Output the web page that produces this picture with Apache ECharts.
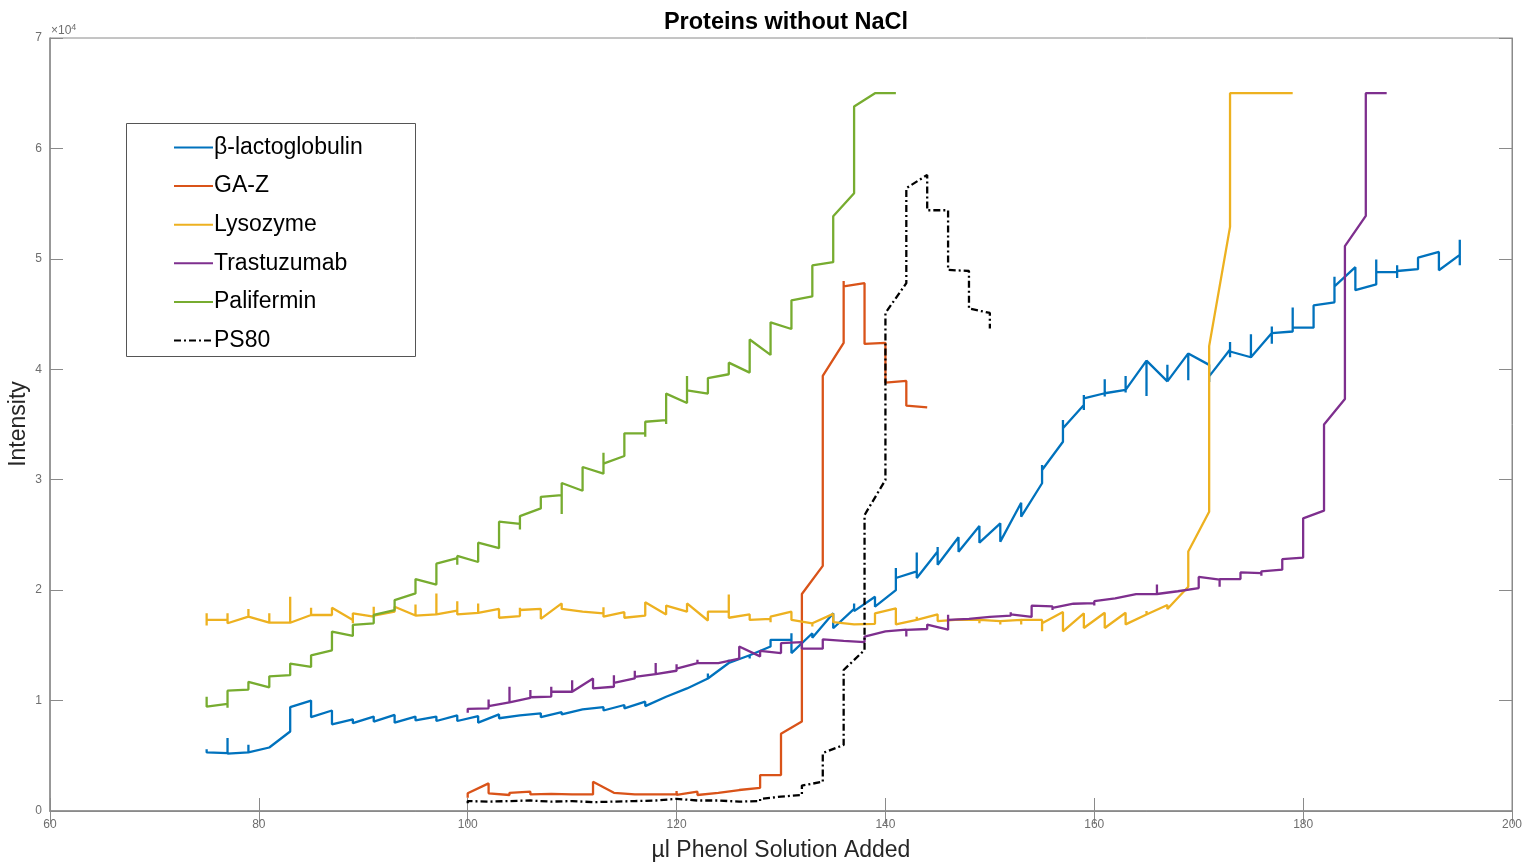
<!DOCTYPE html>
<html>
<head>
<meta charset="utf-8">
<script src="https://cdn.jsdelivr.net/npm/echarts@6/dist/echarts.min.js"></script>
<style>html,body{margin:0;padding:0;background:#fff;}#c{width:1536px;height:867px;}</style>
</head>
<body>
<div id="c"></div>
<script>
var xTicks = [60, 80, 100, 120, 140, 160, 180, 200];
var yTicks = [0, 1, 2, 3, 4, 5, 6, 7];
var seriesNames = ['β-lactoglobulin', 'GA-Z', 'Lysozyme', 'Trastuzumab', 'Palifermin', 'PS80'];

var lactoglobulin = [
[75,5600],[75,5300],
[77,5250],[77,6600],[77,5200],
[79,5300],[79,6000],[79,5300],
[81,5750],
[83,7200],[83,9400],
[85,10000],[85,8500],
[87,9100],[87,7850],
[89,8300],[89,7950],
[91,8550],[91,8100],
[93,8700],[93,8000],
[95,8550],[95,8200],
[97,8550],[97,8150],
[99,8650],[99,8150],
[101,8600],[101,8000],
[103,8750],[103,8400],
[105,8650],[105,8500],
[107,8850],[107,8500],
[109,8950],[109,8750],
[111,9200],[111,9050],
[113,9400],[113,9100],
[115,9600],[115,9300],
[117,9900],[117,9500],
[119,10350],
[121,11100],
[123,12000],[123,12450],[123,12000],
[125,13400],[125,13700],[125,13400],
[127,14100],[127,13800],[127,14100],
[129,14900],[129,15500],
[131,15500],[131,16100],[131,14300],
[133,16100],[133,15700],
[135,17900],[135,16550],
[137,18300],[137,18800],[137,18100],
[139,19400],[139,18500],
[141,20000],[141,22000],[141,21100],
[143,21700],[143,23400],[143,21100],
[145,23500],[145,23900],[145,22300],
[147,24790],[147,23480],
[149,25810],[149,24300],
[151,26050],[151,24390],
[153,27920],[153,26650],
[155,29680],[155,31330],[155,30880],
[157,33440],[157,35410],[157,34660],
[159,36770],[159,37670],[159,36320],[159,37370],
[161,37830],[161,39100],[161,37530],[161,37830],
[163,38130],[163,39400],[163,37900],[163,38130],
[165,40780],[165,37580],[165,40780],
[167,38910],[167,40400],[167,38910],
[169,41440],[169,39010],[169,41440],
[171,40400],[171,38840],[171,39360],
[173,41790],[173,42480],[173,41090],[173,41610],
[175,41090],[175,43180],[175,41090],
[177,43280],[177,43870],[177,42310],[177,43280],
[179,43420],[179,45600],[179,43770],
[181,43770],[181,45780],
[183,46060],[183,48380],[183,47510],
[185,49250],[185,47160],
[187,47680],[187,49940],[187,48800],
[189,48800],[189,49420],[189,48270],[189,48900],
[191,49070],[191,50110],
[193,50630],[193,48970],
[195,50360],[195,51740],[195,49420]
];

var gaZ = [
[100,1200],[100,1600],
[102,2500],[102,1600],
[104,1450],[104,1300],[104,1650],
[106,1750],[106,1500],
[108,1550],[108,1400],[108,1600],
[110,1500],
[112,1500],[112,2650],
[114,1650],
[116,1500],
[118,1500],[118,1650],[118,1450],
[120,1500],[120,1800],[120,1450],
[122,1750],[122,1450],
[124,1650],
[126,1900],
[128,2100],[128,3250],
[130,3250],[130,7000],
[132,8100],[132,19650],
[134,22200],[134,39400],
[136,42400],[136,48000],[136,47500],
[138,47800],[138,42300],
[140,42400],[140,38800],
[142,38950],[142,36700],
[144,36550]
];

var lysozyme = [
[75,16800],[75,17900],[75,17300],
[77,17300],[77,17900],[77,17000],
[79,17600],[79,18300],[79,17600],
[81,17050],[81,17900],[81,17050],
[83,17050],[83,19400],[83,17050],
[85,17750],[85,18400],[85,17750],
[87,17750],[87,18400],
[89,17300],[89,17000],[89,17900],
[91,17600],[91,18500],[91,17700],
[93,18050],[93,18500],
[95,17700],[95,18700],[95,17700],
[97,17800],[97,19700],[97,17800],
[99,18150],[99,19000],[99,17800],
[101,17950],[101,18800],[101,17950],
[103,18300],[103,17500],
[105,17650],[105,18400],[105,18200],
[107,18300],[107,17400],
[109,18800],[109,18300],
[111,18050],
[113,17900],[113,18450],[113,17600],
[115,18000],[115,17500],
[117,17700],[117,18900],
[119,17800],[119,18600],
[121,18050],[121,18800],
[123,17250],[123,18050],
[125,18050],[125,19600],[125,17500],
[127,17800],[127,17300],
[129,17400],[129,17100],[129,17600],
[131,18050],[131,17300],
[133,17000],[133,16700],[133,17000],
[135,17850],[135,17100],
[137,16900],
[139,16950],[139,17900],
[141,18350],[141,16900],
[143,17300],[143,17600],[143,17300],
[145,17800],[145,17200],
[147,17330],
[149,17300],[149,17000],[149,17300],
[151,17200],[151,16900],[151,17200],
[153,17300],[153,16900],[153,17300],
[155,17300],[155,16270],[155,17000],
[157,18020],[157,16270],
[159,17900],[159,16570],
[161,17950],[161,16570],
[163,17950],[163,16900],
[165,17800],[165,18100],[165,17800],
[167,18650],[167,18300],
[169,20300],[169,23500],
[171,27100],[171,42100],
[173,52900],[173,65000],
[179,65000]
];

var trastuzumab = [
[100,8900],[100,9250],
[102,9300],[102,10100],[102,9500],
[104,9830],[104,11250],[104,9830],
[106,10240],[106,10950],[106,10300],
[108,10360],[108,11250],[108,10800],
[110,10800],[110,11850],[110,10800],
[112,12000],[112,11100],
[114,11250],[114,12300],[114,11600],
[116,12000],[116,12700],[116,12150],
[118,12400],[118,13400],[118,12400],
[120,12700],[120,13300],[120,12900],
[122,13400],[122,13700],[122,13400],
[124,13400],
[126,13800],[126,14900],
[128,14000],[128,14500],
[130,14300],[130,15200],
[132,15300],[132,14700],
[134,14700],[134,15550],
[136,15400],
[138,15300],[138,15800],
[140,16270],
[142,16420],[142,15800],[142,16400],
[144,16480],[144,16880],
[146,16420],[146,17780],[146,17300],
[148,17390],
[150,17570],
[152,17690],[152,18000],[152,17800],
[154,17570],[154,18590],
[156,18530],[156,18200],[156,18400],
[158,18770],
[160,18830],[160,18600],[160,19000],
[162,19250],
[164,19640],
[166,19650],[166,20500],[166,19650],
[168,19900],
[170,20190],[170,21200],
[172,20950],[172,20300],[172,21000],
[174,21000],[174,21600],
[176,21550],[176,21300],[176,21700],
[178,21850],[178,22800],
[180,22950],[180,26500],
[182,27200],[182,35000],
[184,37300],[184,51150],
[186,53900],[186,65000],
[188,65000]
];

var palifermin = [
[75,10350],[75,9450],
[77,9700],[77,9350],[77,10900],
[79,11000],[79,11700],
[81,11200],[81,12200],
[83,12300],[83,13350],
[85,13050],[85,14100],
[87,14550],[87,16250],
[89,15850],[89,16850],
[91,17000],[91,17750],
[93,18200],[93,19100],
[95,19700],[95,21000],
[97,20500],[97,22400],
[99,22900],[99,22300],[99,23100],
[101,22550],[101,24300],
[103,23800],[103,26200],
[105,26000],[105,25500],[105,26700],
[107,27400],[107,28450],
[109,28600],[109,26900],[109,29700],
[111,29000],[111,31150],
[113,30550],[113,32450],[113,31450],
[115,32150],[115,34200],
[117,34200],[117,33900],[117,35250],
[119,35400],[119,35050],[119,37800],
[121,36950],[121,39400],[121,38100],
[123,37800],[123,39200],
[125,39550],[125,40600],
[127,39700],[127,42700],
[129,41300],[129,44250],
[131,43650],[131,46250],
[133,46600],[133,49400],
[135,49700],[135,53850],
[137,55950],[137,63800],
[139,65000],
[141,65000]
];

var ps80 = [
[100,700],[100,900],
[102,850],[104,900],[106,950],[108,850],[110,900],[112,800],[114,850],
[116,900],[118,950],[120,1100],[122,950],[124,950],[126,850],
[128,900],[128,1100],
[130,1300],
[132,1450],[132,2300],
[134,2650],[134,5250],
[136,5980],[136,12770],
[138,14580],[138,26800],
[140,29980],[140,45100],
[142,47800],[142,56400],
[144,57600],[144,54400],
[146,54400],[146,49000],
[148,48900],[148,45500],
[150,45100],[150,43700]
];

var colors = ['#0072BD', '#D95319', '#EDB120', '#7E2F8E', '#77AC30', '#000000'];
var allData = [lactoglobulin, gaZ, lysozyme, trastuzumab, palifermin, ps80];
var FONT = "'Liberation Sans', Arial, sans-serif";
var axisGray = '#8a8a8a';
var labelGray = '#6e6e6e';

var series = allData.map(function (d, i) {
  return {
    name: seriesNames[i],
    type: 'line',
    data: d,
    symbol: 'none',
    showSymbol: false,
    animation: false,
    lineStyle: {
      color: colors[i],
      width: 2.3,
      type: i === 5 ? [7, 3, 2, 3] : 'solid'
    },
    itemStyle: { color: colors[i] },
    z: 2 + i
  };
});

var chart = echarts.init(document.getElementById('c'));
var gridL = 50, gridT = 38, gridW = 1462, gridH = 773;

chart.setOption({
  backgroundColor: '#ffffff',
  animation: false,
  title: {
    text: 'Proteins without NaCl',
    left: gridL + gridW / 2,
    textAlign: 'center',
    top: 6,
    textStyle: { fontFamily: FONT, fontSize: 23.5, fontWeight: 'bold', color: '#000' }
  },
  grid: { left: gridL, top: gridT, width: gridW, height: gridH, show: true, borderColor: axisGray, borderWidth: 1, backgroundColor: 'transparent' },
  legend: {
    orient: 'vertical',
    left: 173,
    top: 136,
    padding: 0,
    itemWidth: 39,
    itemHeight: 20,
    itemGap: 15.6,
    data: seriesNames,
    itemStyle: { opacity: 0 },
    textStyle: { fontFamily: FONT, fontSize: 23, color: '#000', padding: [0, 0, 0, -4] },
    selectedMode: false
  },
  xAxis: [{
    type: 'value', min: xTicks[0], max: xTicks[xTicks.length - 1], interval: 20,
    axisLine: { show: true, lineStyle: { color: axisGray, width: 1.5 } },
    axisTick: { show: true, inside: true, length: 13, lineStyle: { color: axisGray } },
    axisLabel: { show: true, margin: 8, fontFamily: FONT, fontSize: 12, color: labelGray,
      formatter: function (v) { return xTicks.indexOf(v) >= 0 ? String(v) : ''; } },
    splitLine: { show: false }
  }, {
    type: 'value', position: 'top', min: xTicks[0], max: xTicks[xTicks.length - 1], interval: 20,
    axisLine: { show: true, lineStyle: { color: axisGray } },
    axisTick: { show: true, inside: true, length: 13, lineStyle: { color: axisGray } },
    axisLabel: { show: false }, splitLine: { show: false }
  }],
  yAxis: [{
    type: 'value', min: 0, max: 70000, interval: 10000,
    axisLine: { show: true, lineStyle: { color: axisGray, width: 1.5 } },
    axisTick: { show: true, inside: true, length: 13, lineStyle: { color: axisGray } },
    axisLabel: { show: true, margin: 8, fontFamily: FONT, fontSize: 12, color: labelGray,
      formatter: function (v) { return String(yTicks[Math.round(v / 10000)]); } },
    splitLine: { show: false }
  }, {
    type: 'value', position: 'right', min: 0, max: 70000, interval: 10000,
    axisLine: { show: true, lineStyle: { color: axisGray } },
    axisTick: { show: true, inside: true, length: 13, lineStyle: { color: axisGray } },
    axisLabel: { show: false }, splitLine: { show: false }
  }],
  graphic: [
    { type: 'rect', shape: { x: 126.5, y: 123.5, width: 289, height: 233 }, style: { fill: '#fff', stroke: '#555', lineWidth: 1 }, z: 0, silent: true },
    { type: 'text', x: 781, y: 851, style: { text: 'µl Phenol Solution Added', font: '23px ' + FONT, fill: '#262626', align: 'center', verticalAlign: 'middle' }, silent: true },
    { type: 'text', x: 19, y: 424, rotation: Math.PI / 2, style: { text: 'Intensity', font: '23px ' + FONT, fill: '#262626', align: 'center', verticalAlign: 'middle' }, silent: true },
    { type: 'text', x: 51, y: 31, style: { text: '{a|×10}{b|4}', rich: { a: { fontSize: 12, fontFamily: FONT, fill: labelGray, color: labelGray }, b: { fontSize: 9, fontFamily: FONT, fill: labelGray, color: labelGray, verticalAlign: 'top', padding: [0, 0, 7, 0] } }, verticalAlign: 'middle' }, silent: true }
  ],
  series: series
});
</script>
</body>
</html>
